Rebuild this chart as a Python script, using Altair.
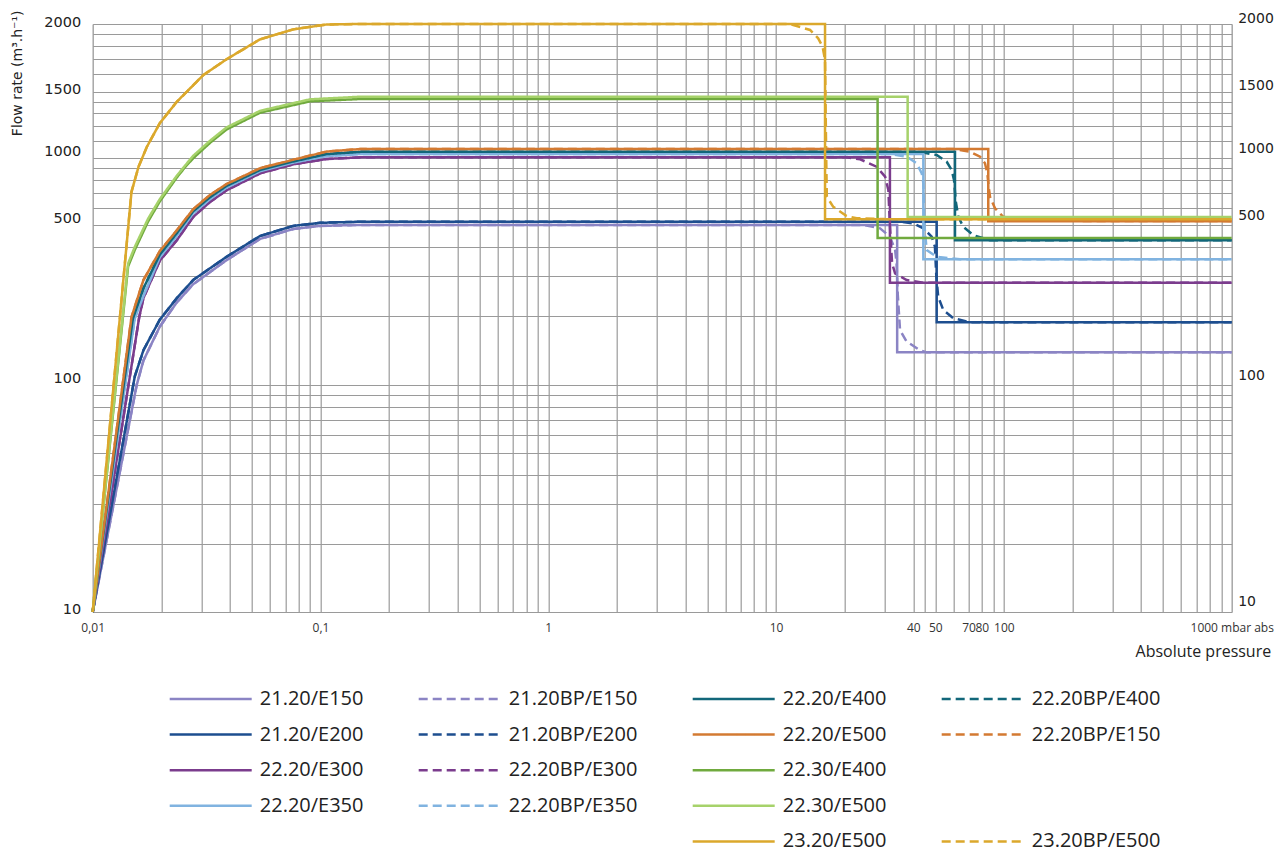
import math
import altair as alt
import pandas as pd

# ---------------- values ----------------
# x: absolute pressure (mbar abs), y: flow rate (m3/h) in the chart's labelled units

# 21.20/E150
E150_RISE_X = [0.01, 0.0156, 0.0167, 0.0197, 0.0234, 0.0276, 0.0387, 0.0543, 0.076, 0.0995, 0.15]
E150_RISE_Y = [10, 100, 128, 180, 230, 276, 352, 436, 482, 497, 502]
E150_DROP_X = [34.0, 34.0, 1000]
E150_DROP_Y = [502, 139, 139]
BP_E150_X = [24.1, 28.6, 31.6, 33.3, 33.8, 34.2, 35.0, 37.4, 42.8, 45.8, 1000]
BP_E150_Y = [502, 485, 446, 390, 341, 250, 174, 155, 142, 139, 139]

# 21.20/E200
E200_RISE_X = [0.01, 0.0153, 0.0167, 0.0197, 0.0234, 0.0276, 0.0387, 0.0543, 0.076, 0.0995, 0.15]
E200_RISE_Y = [10, 109, 142, 193, 240, 288, 364, 449, 497, 513, 519]
E200_DROP_X = [50.7, 50.7, 1000]
E200_DROP_Y = [519, 188, 188]
BP_E200_X = [35.0, 40.0, 44.3, 48.2, 49.8, 50.5, 51.5, 54.2, 60.0, 71.0, 1000]
BP_E200_Y = [519, 510, 485, 446, 403, 300, 243, 213, 196, 188, 188]

# 22.20/E300
E300_RISE_X = [0.01, 0.0160, 0.0167, 0.0197, 0.0234, 0.0276, 0.0327, 0.0387, 0.0543, 0.076, 0.1065, 0.15]
E300_RISE_Y = [10, 198, 240, 350, 430, 545, 636, 718, 856, 940, 993, 1006]
E300_DROP_X = [31.6, 31.6, 1000]
E300_DROP_Y = [1006, 280, 280]
BP_E300_X = [20.4, 23.4, 27.6, 30.1, 31.1, 31.6, 32.3, 33.3, 37.4, 44.3, 1000]
BP_E300_Y = [1006, 990, 917, 827, 720, 500, 340, 308, 288, 280, 280]

# 22.20/E350
E350_RISE_X = [0.01, 0.0153, 0.0167, 0.0197, 0.0234, 0.0276, 0.0327, 0.0387, 0.0543, 0.076, 0.1065, 0.15]
E350_RISE_Y = [10, 196, 245, 362, 450, 566, 655, 738, 874, 956, 1014, 1027]
E350_DROP_X = [44.3, 44.3, 1000]
E350_DROP_Y = [1027, 355, 355]
BP_E350_X = [31.6, 37.4, 41.4, 43.6, 44.3, 44.8, 45.8, 50.7, 64.2, 1000]
BP_E350_Y = [1027, 1010, 950, 856, 772, 500, 390, 364, 355, 355]

# 22.20/E400
E400_RISE_X = [0.01, 0.0150, 0.0167, 0.0197, 0.0234, 0.0276, 0.0327, 0.0387, 0.0543, 0.076, 0.1065, 0.15]
E400_RISE_Y = [10, 195, 265, 372, 462, 578, 668, 752, 886, 968, 1026, 1040]
E400_DROP_X = [61.0, 61.0, 1000]
E400_DROP_Y = [1040, 430, 430]
BP_E400_X = [42.8, 50.7, 56.1, 59.0, 60.4, 61.5, 63.1, 66.3, 73.4, 86.9, 1000]
BP_E400_Y = [1040, 1020, 965, 886, 799, 640, 546, 493, 453, 430, 430]

# 22.20/E500
E500_RISE_X = [0.01, 0.0148, 0.0167, 0.0197, 0.0234, 0.0276, 0.0327, 0.0387, 0.0543, 0.076, 0.1065, 0.15]
E500_RISE_Y = [10, 198, 288, 385, 475, 590, 684, 766, 902, 985, 1042, 1058]
E500_DROP_X = [85.4, 85.4, 1000]
E500_DROP_Y = [1058, 522, 522]
BP_E500_X = [60.0, 71.0, 78.6, 82.6, 84.6, 85.8, 86.9, 91.4, 99.4, 121.7, 1000]
BP_E500_Y = [1058, 1041, 1010, 950, 856, 740, 672, 596, 546, 524, 522]

# 22.30/E400 and 22.30/E500
G_RISE_X = [0.01, 0.0143, 0.0153, 0.0175, 0.0197, 0.0234, 0.0255, 0.0276, 0.0327, 0.0387, 0.0543, 0.09, 0.15]
G400_RISE_Y = [10, 330, 390, 520, 640, 820, 915, 1000, 1098, 1192, 1320, 1415, 1435]
G400_DROP_X = [27.9, 27.9, 1000]
G400_DROP_Y = [1435, 440, 440]
G500_RISE_Y = [10, 340, 402, 535, 655, 835, 930, 1015, 1112, 1207, 1335, 1432, 1455]
G500_DROP_X = [37.8, 37.8, 1000]
G500_DROP_Y = [1455, 545, 545]

# 23.20/E500
GOLD_RISE_X = [0.01, 0.0148, 0.0159, 0.0173, 0.0197, 0.0234, 0.0306, 0.0387, 0.0543, 0.076, 0.1065, 0.15]
GOLD_RISE_Y = [10, 707, 917, 1073, 1238, 1411, 1610, 1722, 1874, 1955, 1996, 2000]
GOLD_DROP_X = [16.4, 16.4, 1000]
GOLD_DROP_Y = [2000, 532, 532]
BP_GOLD_X = [10.4, 11.5, 14.1, 15.3, 16.0, 16.4, 16.6, 16.7, 17.8, 20.4, 22.6, 30.0, 1000]
BP_GOLD_Y = [2000, 2000, 1950, 1882, 1816, 1716, 1000, 672, 606, 550, 538, 533, 532]

SOLID = [
    ("21.20/E150", E150_RISE_X + E150_DROP_X, E150_RISE_Y + E150_DROP_Y),
    ("21.20/E200", E200_RISE_X + E200_DROP_X, E200_RISE_Y + E200_DROP_Y),
    ("22.20/E300", E300_RISE_X + E300_DROP_X, E300_RISE_Y + E300_DROP_Y),
    ("22.20/E350", E350_RISE_X + E350_DROP_X, E350_RISE_Y + E350_DROP_Y),
    ("22.20/E400", E400_RISE_X + E400_DROP_X, E400_RISE_Y + E400_DROP_Y),
    ("22.20/E500", E500_RISE_X + E500_DROP_X, E500_RISE_Y + E500_DROP_Y),
    ("22.30/E400", G_RISE_X + G400_DROP_X, G400_RISE_Y + G400_DROP_Y),
    ("22.30/E500", G_RISE_X + G500_DROP_X, G500_RISE_Y + G500_DROP_Y),
    ("23.20/E500", GOLD_RISE_X + GOLD_DROP_X, GOLD_RISE_Y + GOLD_DROP_Y),
]
DASHED = [
    ("21.20BP/E150", E150_RISE_X + BP_E150_X, E150_RISE_Y + BP_E150_Y),
    ("21.20BP/E200", E200_RISE_X + BP_E200_X, E200_RISE_Y + BP_E200_Y),
    ("22.20BP/E300", E300_RISE_X + BP_E300_X, E300_RISE_Y + BP_E300_Y),
    ("22.20BP/E350", E350_RISE_X + BP_E350_X, E350_RISE_Y + BP_E350_Y),
    ("22.20BP/E400", E400_RISE_X + BP_E400_X, E400_RISE_Y + BP_E400_Y),
    ("22.20BP/E150", E500_RISE_X + BP_E500_X, E500_RISE_Y + BP_E500_Y),
    ("23.20BP/E500", GOLD_RISE_X + BP_GOLD_X, GOLD_RISE_Y + BP_GOLD_Y),
]

# legend entries, column by column (5 rows, 4 columns; "_" entries are empty cells)
LEGEND_ORDER = [
    "21.20/E150", "21.20/E200", "22.20/E300", "22.20/E350", "_c",
    "21.20BP/E150", "21.20BP/E200", "22.20BP/E300", "22.20BP/E350", "_d",
    "22.20/E400", "22.20/E500", "22.30/E400", "22.30/E500", "23.20/E500",
    "22.20BP/E400", "22.20BP/E150", "_a", "_b", "23.20BP/E500",
]
LAV, DBLUE, PURPLE, LBLUE = "#8b84c4", "#1d4e8f", "#7b3c8d", "#80b3e0"
TEAL, ORANGE, GREEN, LGREEN, GOLD = "#12677a", "#d37a32", "#70aa3e", "#a6d26a", "#dba82c"
NONE = "rgba(0,0,0,0)"
COLORS = [
    LAV, DBLUE, PURPLE, LBLUE, NONE,
    LAV, DBLUE, PURPLE, LBLUE, NONE,
    TEAL, ORANGE, GREEN, LGREEN, GOLD,
    TEAL, ORANGE, NONE, NONE, GOLD,
]
SOLID_DASH = [1, 0]
BP_DASH = [9, 5]
DASHES = [SOLID_DASH if ("BP" not in s) else BP_DASH for s in LEGEND_ORDER]

X_LABELS = {0.01: "0,01", 0.1: "0,1", 1: "1", 10: "10", 40: "40", 50: "50",
            70: "70", 80: "80", 100: "100", 1000: "1000 mbar abs"}
Y_LABELS = [10, 100, 500, 1000, 1500, 2000]
# pixel position of each labelled flow value inside the plot (0 = top)
Y_RANGE = [588, 361, 201.3, 134.3, 67.7, 0]

# ---------------- build table ----------------
rows = []
for style, group in (("solid", SOLID), ("dashed", DASHED)):
    for name, xs, ys in group:
        for i, (xv, yv) in enumerate(zip(xs, ys)):
            rows.append({"series": name, "x": xv, "y": yv, "i": i, "style": style})
df = pd.DataFrame(rows)

# ---------------- grid values ----------------
XGRID = []
for e in range(-2, 3):
    for m in range(1, 10):
        XGRID.append(round(m * 10.0 ** e, 6))
XGRID += [45, 1000]


def seg(c0, c1, t0, t1, trues):
    return [c0 * (c1 / c0) ** (math.log(t / t0) / math.log(t1 / t0)) for t in trues]


YGRID = [10, 20, 30, 40, 50, 60, 70, 80, 90, 100, 200, 300, 400, 500,
         600, 700, 800, 900, 1000]
YGRID += seg(1000, 1500, 1000, 2000, [1200, 1400, 1600, 1800]) + [1500]
YGRID += seg(1500, 2000, 2000, 4000, [2400, 2800, 3200, 3600]) + [2000]

x_expr = ""
for v, t in X_LABELS.items():
    x_expr += f"abs(datum.value - {v}) < {v * 1e-6} ? '{t}' : "
x_expr += "''"
y_expr = "indexof(" + str(Y_LABELS) + ", datum.value) >= 0 ? '' + datum.value : ''"

GRID = "#9a9a9a"

x_enc = alt.X(
    "x:Q",
    scale=alt.Scale(type="log", domain=[0.01, 1000], nice=False),
    axis=alt.Axis(
        values=XGRID, labelExpr=x_expr, grid=True, gridColor=GRID, gridWidth=1.2,
        ticks=False, domain=False, labelFlush=False, labelOverlap=False,
        labelFont="Open Sans", labelFontSize=12, labelColor="#333", labelPadding=11,
        title="Absolute pressure", titleFont="Open Sans", titleFontSize=16,
        titleFontWeight="normal", titleColor="#222", titleX=1178, titleY=40,
        titleAlign="right", titleBaseline="middle",
    ),
)
y_scale = alt.Scale(type="log", domain=Y_LABELS, range=Y_RANGE, nice=False)

left_axis = alt.Axis(
    orient="left", values=YGRID, labelExpr=y_expr, grid=True, gridColor=GRID, gridWidth=1.2,
    ticks=False, domain=False, labelOverlap=False, labelFont="DejaVu Sans", labelFontSize=14.5,
    labelColor="#222", labelPadding=12,
    labelOffset={"condition": {"test": "datum.value == 10 || datum.value >= 1500", "value": -2}, "value": -7},
    title="Flow rate (m³.h⁻¹)", titleFont="DejaVu Sans", titleFontSize=14,
    titleFontWeight="normal", titleColor="#222", titleAngle=270, titleX=-75, titleY=-14,
    titleAlign="right", titleBaseline="middle",
)
right_axis = alt.Axis(
    orient="right", values=Y_LABELS, labelExpr="'' + datum.value", grid=False, ticks=False,
    domain=False, labelOverlap=False, labelFont="DejaVu Sans", labelFontSize=14,
    labelColor="#222", labelPadding=6,
    labelOffset={"condition": {"test": "datum.value >= 1500", "value": -6}, "value": -10},
    title="",
)

LEG = alt.Legend(
    title=None, orient="none", legendX=75.5, legendY=665, columns=4, gridAlign="each",
    columnPadding=53, rowPadding=15.6, symbolType="stroke", symbolSize=6724,
    symbolStrokeWidth=2.5, clipHeight=20, labelFont="Open Sans", labelFontSize=20,
    labelColor="#222", labelOffset=6.6, labelLimit=300,
    labelExpr="indexof(datum.label, '_') == 0 ? '' : datum.label",
)
color_enc = alt.Color("series:N", scale=alt.Scale(domain=LEGEND_ORDER, range=COLORS), legend=LEG)
dash_enc = alt.StrokeDash("series:N", scale=alt.Scale(domain=LEGEND_ORDER, range=DASHES), legend=LEG)

dashed = alt.Chart(df).transform_filter("datum.style == 'dashed'").mark_line(strokeWidth=2.5).encode(
    x=x_enc, y=alt.Y("y:Q", scale=y_scale, axis=right_axis),
    color=color_enc, strokeDash=dash_enc, order="i:Q",
)
solid = alt.Chart(df).transform_filter("datum.style == 'solid'").mark_line(strokeWidth=2.5).encode(
    x=x_enc, y=alt.Y("y:Q", scale=y_scale, axis=left_axis),
    color=color_enc, strokeDash=dash_enc, order="i:Q",
)

chart = alt.layer(dashed, solid).resolve_axis(y="independent").properties(
    width=1139, height=588,
    autosize=alt.AutoSizeParams(type="none"),
    padding={"left": 84.7, "top": 16, "right": 43, "bottom": 250},
).configure_view(stroke=GRID, strokeWidth=1.2).configure(background="white")

chart.save("out.html", embed_options={"renderer": "svg", "actions": False})
